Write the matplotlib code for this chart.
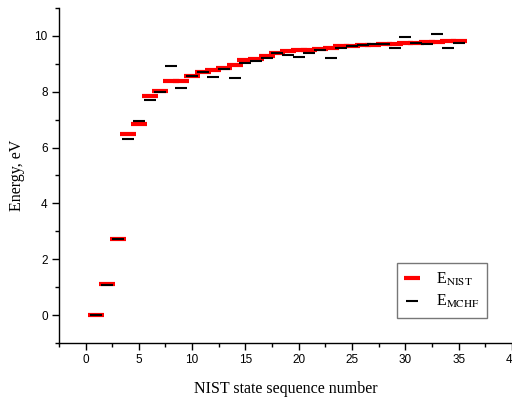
import matplotlib
matplotlib.use("Agg")
import matplotlib.pyplot as plt
from matplotlib.ticker import MultipleLocator

states = list(range(1, 36))
e_nist = [0.0, 1.12, 2.72, 6.50, 6.83, 7.84, 8.03, 8.40, 8.40, 8.57,
          8.70, 8.76, 8.86, 8.94, 9.15, 9.17, 9.27, 9.40, 9.47, 9.49,
          9.50, 9.52, 9.56, 9.63, 9.64, 9.66, 9.68, 9.70, 9.72, 9.74,
          9.76, 9.77, 9.79, 9.80, 9.82]
e_mchf = [0.0, 1.07, 2.72, 6.31, 6.95, 7.72, 8.00, 8.92, 8.15, 8.55,
          8.69, 8.54, 8.81, 8.49, 9.03, 9.11, 9.21, 9.38, 9.32, 9.26,
          9.40, 9.50, 9.19, 9.57, 9.62, 9.69, 9.70, 9.71, 9.58, 9.95,
          9.74, 9.71, 10.05, 9.56, 9.75]

plt.rcParams['mathtext.fontset'] = 'stix'

fig = plt.figure(figsize=(5.12, 3.97), dpi=100)
ax = fig.add_axes([0.115, 0.136, 0.885, 0.844])

ax.plot(states, e_nist, linestyle='none', marker='_', markersize=12,
        markeredgewidth=3.0, color='#ff0000', label=r'E$_{\mathrm{NIST}}$')
ax.plot(states, e_mchf, linestyle='none', marker='_', markersize=8.5,
        markeredgewidth=1.5, color='black', label=r'E$_{\mathrm{MCHF}}$')

ax.set_xlim(-2.5, 40)
ax.set_ylim(-1, 11)
ax.xaxis.set_major_locator(MultipleLocator(5))
ax.xaxis.set_minor_locator(MultipleLocator(2.5))
ax.yaxis.set_major_locator(MultipleLocator(2))
ax.yaxis.set_minor_locator(MultipleLocator(1))

for s in ['top', 'right']:
    ax.spines[s].set_visible(False)
for s in ['left', 'bottom']:
    ax.spines[s].set_linewidth(1.0)

ax.tick_params(which='major', direction='out', length=5, width=1,
               labelsize=8.5, pad=3)
ax.tick_params(which='minor', direction='out', length=3, width=1)
for lab in ax.get_xticklabels() + ax.get_yticklabels():
    lab.set_family('Liberation Sans')

ax.set_xlabel('NIST state sequence number', family='Liberation Serif',
              fontsize=11.5, labelpad=11)
ax.set_ylabel('Energy, eV', family='Liberation Serif', fontsize=11.5,
              labelpad=7)

leg = ax.legend(loc='lower right', bbox_to_anchor=(0.962, 0.052),
                frameon=True, fancybox=False,
                edgecolor='#555555', handlelength=1.0, handletextpad=1.0,
                borderpad=0.45, labelspacing=0.35,
                prop={'family': 'Liberation Serif', 'size': 11.5})
leg.get_frame().set_linewidth(1.0)

fig.savefig('out.png', dpi=100)
